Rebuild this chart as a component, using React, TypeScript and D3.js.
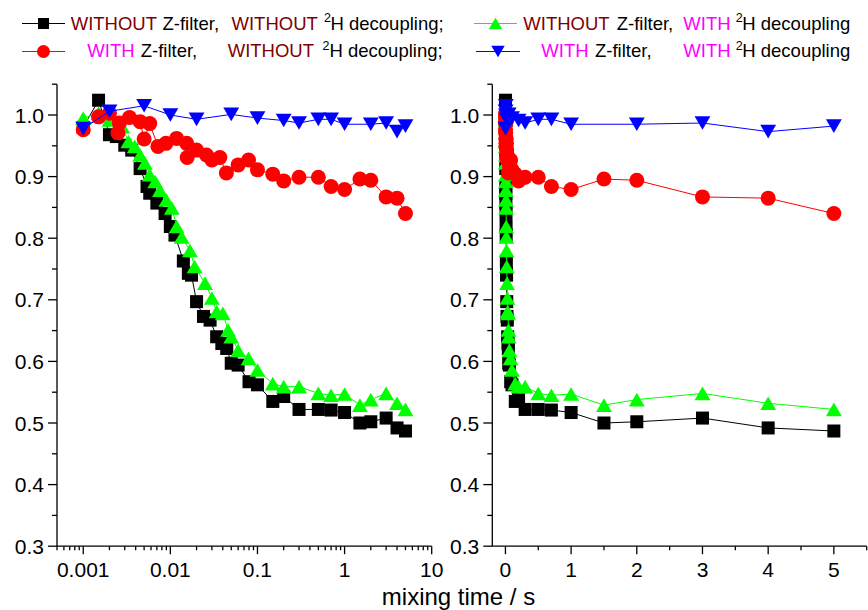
import React from "react";
import * as d3 from "d3";

// ---- data (mixing time in s, normalised intensity) ----
const blackT = [0.001, 0.0015, 0.002, 0.0024, 0.003, 0.0036, 0.0045, 0.0054, 0.0058, 0.007, 0.0087, 0.01, 0.0113, 0.0141, 0.0161, 0.0175, 0.02, 0.024, 0.0286, 0.034, 0.039, 0.0444, 0.05, 0.06, 0.08, 0.1, 0.15, 0.2, 0.3, 0.5, 0.7, 1, 1.5, 2, 3, 4, 5];
const blackV = [0.98, 1.024, 0.968, 0.965, 0.951, 0.943, 0.913, 0.884, 0.873, 0.857, 0.84, 0.819, 0.805, 0.763, 0.743, 0.74, 0.697, 0.673, 0.667, 0.64, 0.629, 0.621, 0.597, 0.594, 0.567, 0.562, 0.535, 0.543, 0.522, 0.522, 0.521, 0.517, 0.5, 0.502, 0.508, 0.492, 0.487];

const greenT = [0.001, 0.0015, 0.002, 0.0028, 0.0033, 0.0039, 0.0045, 0.0051, 0.0058, 0.0067, 0.0076, 0.009, 0.0104, 0.0118, 0.0135, 0.0168, 0.019, 0.025, 0.03, 0.034, 0.04, 0.046, 0.05, 0.06, 0.079, 0.1, 0.15, 0.2, 0.3, 0.5, 0.7, 1, 1.5, 2, 3, 4, 5];
const greenV = [0.995, 1.003, 0.992, 0.981, 0.957, 0.949, 0.935, 0.922, 0.903, 0.892, 0.878, 0.862, 0.849, 0.819, 0.802, 0.78, 0.754, 0.727, 0.703, 0.681, 0.678, 0.651, 0.64, 0.618, 0.605, 0.586, 0.564, 0.559, 0.559, 0.548, 0.545, 0.547, 0.529, 0.538, 0.548, 0.532, 0.522];

const redT = [0.001, 0.0015, 0.002, 0.0025, 0.0026, 0.0034, 0.0045, 0.005, 0.0058, 0.0072, 0.0089, 0.0118, 0.0154, 0.0156, 0.02, 0.026, 0.03, 0.037, 0.044, 0.06, 0.079, 0.1, 0.15, 0.2, 0.3, 0.5, 0.7, 1, 1.5, 2, 3, 4, 5];
const redV = [0.976, 0.997, 1.003, 0.971, 0.987, 0.996, 0.989, 0.961, 0.986, 0.949, 0.954, 0.962, 0.954, 0.931, 0.943, 0.935, 0.927, 0.931, 0.906, 0.919, 0.927, 0.911, 0.904, 0.893, 0.899, 0.899, 0.884, 0.879, 0.896, 0.894, 0.867, 0.865, 0.84];

const blueT = [0.001, 0.002, 0.005, 0.01, 0.02, 0.05, 0.1, 0.2, 0.3, 0.5, 0.7, 1, 2, 3, 4, 5];
const blueV = [0.978, 1.006, 1.015, 1.0, 0.993, 1.001, 0.995, 0.991, 0.987, 0.993, 0.993, 0.985, 0.985, 0.987, 0.973, 0.982];

const yTicks = [0.3, 0.4, 0.5, 0.6, 0.7, 0.8, 0.9, 1.0];
const yMinor = [0.35, 0.45, 0.55, 0.65, 0.75, 0.85, 0.95, 1.05];
const logTicks = [0.001, 0.01, 0.1, 1, 10];
const logTickLabels = ["0.001", "0.01", "0.1", "1", "10"];
const linTicks = [0, 1, 2, 3, 4, 5];
const linMinor = [0.5, 1.5, 2.5, 3.5, 4.5, 5.5];

type Shape = "square" | "circle" | "up" | "down";
const series: { t: number[]; v: number[]; color: string; shape: Shape }[] = [
  { t: blackT, v: blackV, color: "#000000", shape: "square" },
  { t: greenT, v: greenV, color: "#00ff00", shape: "up" },
  { t: redT, v: redV, color: "#ff0000", shape: "circle" },
  { t: blueT, v: blueV, color: "#0000ff", shape: "down" },
];

const FONT = "'Liberation Sans', Arial, Helvetica, sans-serif";

function marker(shape: Shape, x: number, y: number, s: number, color: string, key?: any) {
  if (shape === "square")
    return <rect key={key} x={x - s / 2} y={y - s / 2} width={s} height={s} fill={color} />;
  if (shape === "circle") return <circle key={key} cx={x} cy={y} r={s / 2 + 1} fill={color} />;
  const w = s * 1.22;
  const h = s * 1.05;
  if (shape === "up")
    return <path key={key} d={`M${x},${y - h / 2}L${x + w / 2},${y + h / 2}L${x - w / 2},${y + h / 2}Z`} fill={color} />;
  return <path key={key} d={`M${x},${y + h / 2}L${x + w / 2},${y - h / 2}L${x - w / 2},${y - h / 2}Z`} fill={color} />;
}

export default function App() {
  const y = d3.scaleLinear().domain([0.3, 1.05]).range([546.2, 84.2]);
  const xL = d3.scaleLog().domain([0.0005, 10]).range([57, 431.7]);
  const xR = d3.scaleLinear().domain([-0.2, 5.5]).range([492.3, 866.7]);

  const logMinor: number[] = [];
  [0.0001, 0.001, 0.01, 0.1, 1].forEach((d) => {
    for (let k = 2; k <= 9; k++) {
      const v = d * k;
      if (v >= 0.0005 && v <= 10) logMinor.push(v);
    }
  });

  const axisColor = "#000";
  const sw = 1.3;

  const panel = (xs: any, x0: number, x1: number, key: string, isLog: boolean) => {
    const line = d3
      .line<[number, number]>()
      .x((d) => xs(d[0]))
      .y((d) => y(d[1]));
    return (
      <g key={key}>
        {series.map((s, si) => (
          <g key={si}>
            <path
              d={line(s.t.map((t, i) => [t, s.v[i]] as [number, number])) || ""}
              fill="none"
              stroke={s.color}
              strokeWidth={1}
            />
            {s.t.map((t, i) => marker(s.shape, xs(t), y(s.v[i]), 13, s.color, i))}
          </g>
        ))}
        {/* y axis */}
        <line x1={x0} x2={x0} y1={y(1.05)} y2={y(0.3)} stroke={axisColor} strokeWidth={sw} />
        {yTicks.map((t) => (
          <g key={t}>
            <line x1={x0 - 9} x2={x0} y1={y(t)} y2={y(t)} stroke={axisColor} strokeWidth={sw} />
            <text x={x0 - 13} y={y(t)} dy="0.36em" textAnchor="end" fontSize={21} fontFamily={FONT}>
              {t.toFixed(1)}
            </text>
          </g>
        ))}
        {yMinor.map((t) => (
          <line key={t} x1={x0 - 5} x2={x0} y1={y(t)} y2={y(t)} stroke={axisColor} strokeWidth={sw} />
        ))}
        {/* x axis */}
        <line x1={x0} x2={x1} y1={y(0.3)} y2={y(0.3)} stroke={axisColor} strokeWidth={sw} />
        {isLog
          ? logTicks.map((t, i) => (
              <g key={t}>
                <line x1={xs(t)} x2={xs(t)} y1={y(0.3)} y2={y(0.3) + 8} stroke={axisColor} strokeWidth={sw} />
                <text x={xs(t)} y={577} textAnchor="middle" fontSize={21} fontFamily={FONT}>
                  {logTickLabels[i]}
                </text>
              </g>
            ))
          : linTicks.map((t) => (
              <g key={t}>
                <line x1={xs(t)} x2={xs(t)} y1={y(0.3)} y2={y(0.3) + 8} stroke={axisColor} strokeWidth={sw} />
                <text x={xs(t)} y={577} textAnchor="middle" fontSize={21} fontFamily={FONT}>
                  {String(t)}
                </text>
              </g>
            ))}
        {(isLog ? logMinor : linMinor).map((t) => (
          <line key={t} x1={xs(t)} x2={xs(t)} y1={y(0.3)} y2={y(0.3) + 4} stroke={axisColor} strokeWidth={sw} />
        ))}
      </g>
    );
  };

  const dred = "#800000";
  const mag = "#ff00ff";
  const lfs = 18.5;
  const sup = (x: number, yb: number) => (
    <tspan x={x} y={yb - 7.5} fontSize={12.5}>
      2
    </tspan>
  );

  const legendItem = (lx0: number, lx1: number, cy: number, color: string, shape: Shape) => (
    <g>
      <line x1={lx0} x2={lx1} y1={cy} y2={cy} stroke={color} strokeWidth={1} />
      {marker(shape, (lx0 + lx1) / 2, cy, 11, color)}
    </g>
  );

  const r1 = 29.5;
  const r2 = 57;

  return (
    <svg
      width={868}
      height={610}
      style={{ position: "absolute", left: 0, top: 0, background: "#fff" }}
      fontFamily={FONT}
    >
      <rect width={868} height={610} fill="#fff" />
      {panel(xL, 57, 431.7, "L", true)}
      {panel(xR, 492.3, 866.7, "R", false)}

      {/* legend */}
      {legendItem(22, 65, 23.5, "#000", "square")}
      {legendItem(22, 65, 51.5, "#ff0000", "circle")}
      {legendItem(474, 517, 23.5, "#00ff00", "up")}
      {legendItem(476, 520, 51.5, "#0000ff", "down")}

      <text fontSize={lfs} y={r1}>
        <tspan x={70.7} fill={dred}>WITHOUT</tspan>
        <tspan x={162.5} fill="#000">Z-filter,</tspan>
        <tspan x={231.5} fill={dred}>WITHOUT</tspan>
        {sup(324, r1)}
        <tspan x={330.5} y={r1}>H decoupling;</tspan>
      </text>
      <text fontSize={lfs} y={r2}>
        <tspan x={87.3} fill={mag}>WITH</tspan>
        <tspan x={140.7} fill="#000">Z-filter,</tspan>
        <tspan x={227.7} fill={dred}>WITHOUT</tspan>
        {sup(322.5, r2)}
        <tspan x={329.5} y={r2}>H decoupling;</tspan>
      </text>
      <text fontSize={lfs} y={r1}>
        <tspan x={523.3} fill={dred}>WITHOUT</tspan>
        <tspan x={616.7} fill="#000">Z-filter,</tspan>
        <tspan x={683.3} fill={mag}>WITH</tspan>
        {sup(735.7, r1)}
        <tspan x={742.3} y={r1}>H decoupling</tspan>
      </text>
      <text fontSize={lfs} y={r2}>
        <tspan x={541.3} fill={mag}>WITH</tspan>
        <tspan x={595} fill="#000">Z-filter,</tspan>
        <tspan x={683.3} fill={mag}>WITH</tspan>
        {sup(735.7, r2)}
        <tspan x={742.3} y={r2}>H decoupling</tspan>
      </text>

      <text x={458.5} y={605} textAnchor="middle" fontSize={24}>
        mixing time / s
      </text>
    </svg>
  );
}
